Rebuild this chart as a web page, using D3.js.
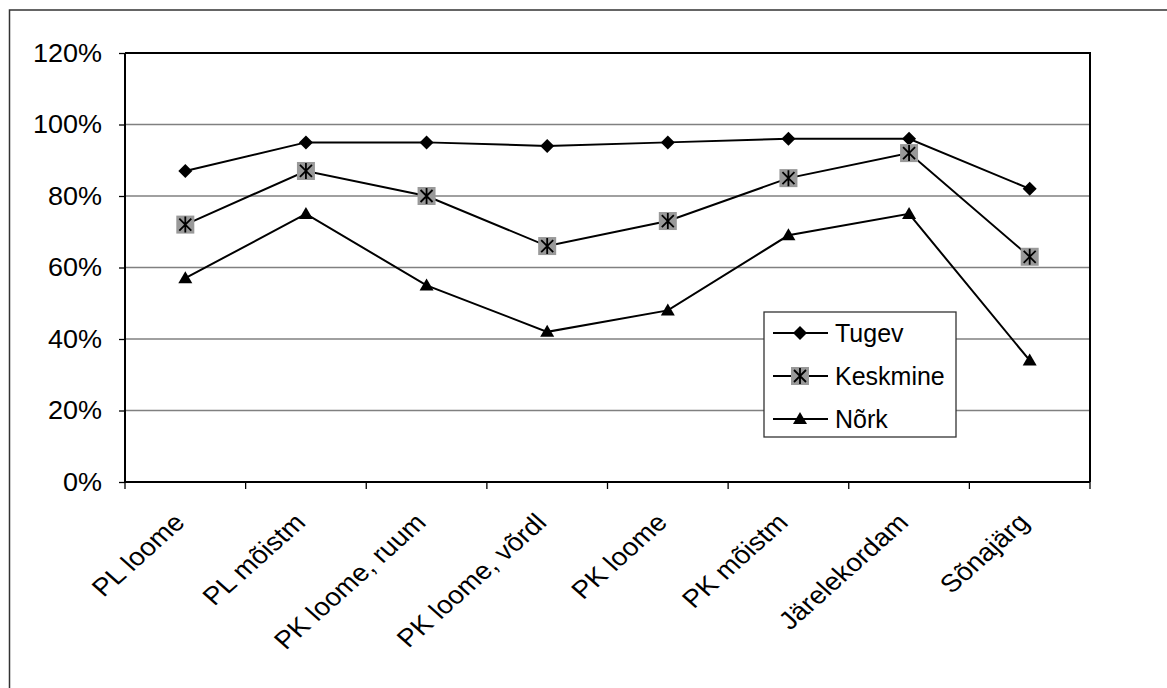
<!DOCTYPE html>
<html>
<head>
<meta charset="utf-8">
<script src="https://cdn.jsdelivr.net/npm/d3@7"></script>
<style>
  body { margin: 0; background: #fff; }
  svg { display: block; font-family: "Liberation Sans", Arial, sans-serif; }
  .grid line { stroke: #808080; stroke-width: 1.3; }
  .series { fill: none; stroke: #000; stroke-width: 2; }
</style>
</head>
<body>
<svg></svg>
<script>
const w = 1167;
const h = 688;

// Data
const categories = ["PL loome", "PL mõistm", "PK loome, ruum", "PK loome, võrdl",
    "PK loome", "PK mõistm", "Järelekordam", "Sõnajärg"];
const tugev = [0.87, 0.95, 0.95, 0.94, 0.95, 0.96, 0.96, 0.82];
const keskmine = [0.72, 0.87, 0.80, 0.66, 0.73, 0.85, 0.92, 0.63];
const nork = [0.57, 0.75, 0.55, 0.42, 0.48, 0.69, 0.75, 0.34];
const seriesNames = ["Tugev", "Keskmine", "Nõrk"];
const yTicks = [0, 0.2, 0.4, 0.6, 0.8, 1.0, 1.2];

const series = [
    { name: seriesNames[0], values: tugev, marker: "diamond" },
    { name: seriesNames[1], values: keskmine, marker: "star" },
    { name: seriesNames[2], values: nork, marker: "triangle" }
];

const svg = d3.select("svg")
    .attr("width", w)
    .attr("height", h);

// outer chart frame
svg.append("rect")
    .attr("x", 9.5).attr("y", 10)
    .attr("width", w + 20).attr("height", h + 20)
    .attr("fill", "none")
    .attr("stroke", "#333")
    .attr("stroke-width", 1.5);

const pLeft = 125, pRight = 1090, pTop = 53, pBottom = 482;

const x = d3.scaleBand()
    .domain(categories)
    .range([pLeft, pRight]);

const y = d3.scaleLinear()
    .domain([0, 1.2])
    .range([pBottom, pTop]);

// gridlines
svg.append("g")
    .attr("class", "grid")
    .selectAll("line")
    .data(yTicks.slice(1))
    .enter()
    .append("line")
    .attr("x1", pLeft)
    .attr("x2", pRight)
    .attr("y1", d => y(d))
    .attr("y2", d => y(d));

// plot border top/right
svg.append("path")
    .attr("d", `M${pLeft},${pTop}H${pRight}V${pBottom}`)
    .attr("fill", "none")
    .attr("stroke", "#000")
    .attr("stroke-width", 2);

// y axis
const yAxis = svg.append("g")
    .attr("transform", `translate(${pLeft},0)`)
    .call(d3.axisLeft(y)
        .tickValues(yTicks)
        .tickFormat(d3.format(".0%"))
        .tickSize(6)
        .tickPadding(17));
yAxis.select(".domain").attr("stroke-width", 2).attr("d", `M0,${pTop}V${pBottom}`);
yAxis.selectAll(".tick line").attr("stroke-width", 1.3);
yAxis.selectAll("text")
    .attr("font-size", 25)
    .attr("font-family", "Liberation Sans, Arial, sans-serif")
    .attr("fill", "#000")
    .attr("x", -23 / 1.08)
    .attr("transform", "scale(1.08,1)");

// x axis: ticks between categories
const xTickPos = categories.map(c => x(c)).concat([pRight]);
svg.append("line")
    .attr("x1", pLeft).attr("x2", pRight)
    .attr("y1", pBottom).attr("y2", pBottom)
    .attr("stroke", "#000")
    .attr("stroke-width", 2);
svg.selectAll(".xtick")
    .data(xTickPos)
    .enter()
    .append("line")
    .attr("class", "xtick")
    .attr("x1", d => d).attr("x2", d => d)
    .attr("y1", pBottom).attr("y2", pBottom + 7)
    .attr("stroke", "#000")
    .attr("stroke-width", 1.3);

// labels: rotated, then the whole picture is a bit wider than tall
svg.selectAll(".xlabel")
    .data(categories)
    .enter()
    .append("text")
    .attr("class", "xlabel")
    .attr("text-anchor", "end")
    .attr("font-size", 25)
    .attr("transform", d => `translate(${x(d) + x.bandwidth() / 2 + 1},${pBottom + 42}) scale(1.12,1) rotate(-45)`)
    .text(d => d);

// lines
const line = d3.line()
    .x((d, i) => x(categories[i]) + x.bandwidth() / 2)
    .y(d => y(d));

svg.selectAll(".series")
    .data(series)
    .enter()
    .append("path")
    .attr("class", "series")
    .attr("d", d => line(d.values));

function drawMarker(g, type) {
    if (type === "diamond") {
        g.append("path").attr("d", "M0,-7L7,0L0,7L-7,0Z").attr("fill", "#000");
    } else if (type === "star") {
        g.append("rect").attr("x", -9).attr("y", -9).attr("width", 18).attr("height", 18)
            .attr("fill", "#999999");
        g.append("path").attr("d", "M-6,-6L6,6M6,-6L-6,6M0,-8V8")
            .attr("stroke", "#000").attr("stroke-width", 1.8);
    } else {
        g.append("path").attr("d", "M0,-7L7,5L-7,5Z").attr("fill", "#000");
    }
}

series.forEach(s => {
    svg.selectAll(null)
        .data(s.values)
        .enter()
        .append("g")
        .attr("transform", (d, i) => `translate(${x(categories[i]) + x.bandwidth() / 2},${y(d)})`)
        .each(function () { drawMarker(d3.select(this), s.marker); });
});

// legend
const legend = svg.append("g").attr("transform", "translate(764,312)");
legend.append("rect")
    .attr("width", 192).attr("height", 125)
    .attr("fill", "#fff")
    .attr("stroke", "#333")
    .attr("stroke-width", 1.3);

const item = legend.selectAll(".item")
    .data(series)
    .enter()
    .append("g")
    .attr("class", "item")
    .attr("transform", (d, i) => `translate(0,${21 + i * 43})`);
item.append("line")
    .attr("x1", 9).attr("x2", 64)
    .attr("stroke", "#000").attr("stroke-width", 2);
item.each(function (d) {
    const g = d3.select(this).append("g").attr("transform", "translate(36,0)");
    drawMarker(g, d.marker);
});
item.append("text")
    .attr("x", 71)
    .attr("dy", "0.35em")
    .attr("font-size", 25)
    .text(d => d.name);
</script>
</body>
</html>
